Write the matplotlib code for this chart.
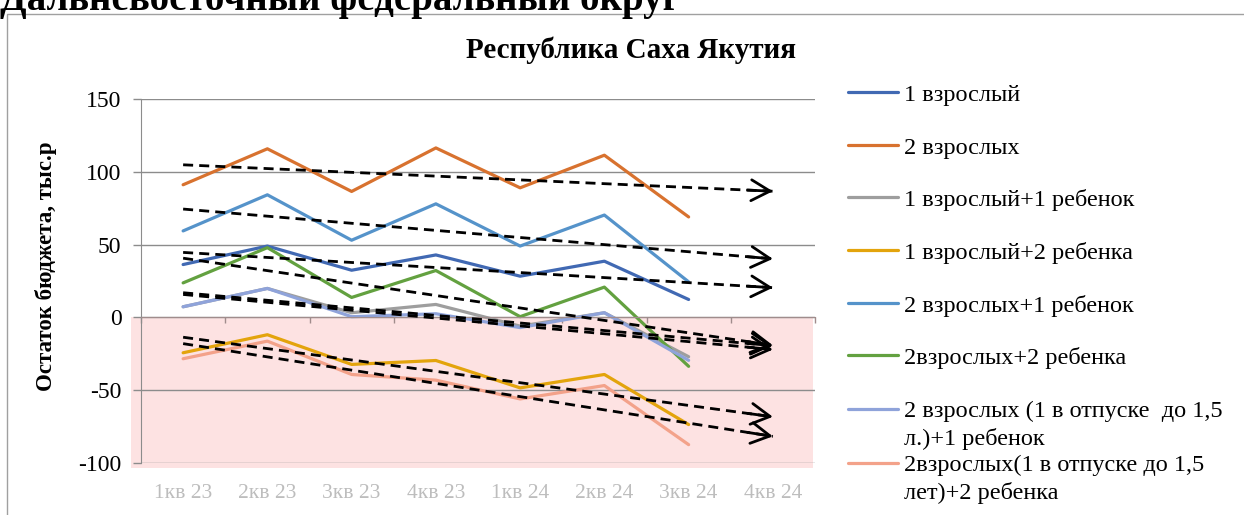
import numpy as np
import matplotlib
matplotlib.use('Agg')
import matplotlib.pyplot as plt
from matplotlib.lines import Line2D

plt.rcParams['font.family'] = ['Liberation Serif', 'DejaVu Serif']
plt.rcParams['axes.unicode_minus'] = False

# quarters on the x axis
quarters = ['1кв 23', '2кв 23', '3кв 23', '4кв 23', '1кв 24', '2кв 24', '3кв 24', '4кв 24']

# budget remainder, thousand rub (no value yet for 4кв 24)
one_adult = [36.3, 49.0, 32.4, 42.9, 28.3, 38.6, 12.3]
two_adults = [91.1, 115.8, 86.5, 116.4, 89.0, 111.4, 69.0]
one_adult_one_child = [7.3, 19.9, 3.2, 8.9, -6.0, 3.2, -27.0]
one_adult_two_children = [-24.3, -11.9, -32.3, -29.6, -48.4, -39.2, -73.6]
two_adults_one_child = [59.4, 84.2, 53.0, 78.0, 49.0, 70.3, 24.4]
two_adults_two_children = [23.7, 47.9, 13.7, 32.2, 0.5, 20.8, -33.6]
leave_one_child = [7.3, 19.9, 0.5, 2.5, -7.0, 3.2, -29.5]
leave_two_children = [-28.4, -16.3, -39.2, -43.1, -56.0, -46.8, -87.4]

labels = ['1 взрослый', '2 взрослых', '1 взрослый+1 ребенок', '1 взрослый+2 ребенка',
          '2 взрослых+1 ребенок', '2взрослых+2 ребенка',
          '2 взрослых (1 в отпуске  до 1,5\nл.)+1 ребенок',
          '2взрослых(1 в отпуске до 1,5\nлет)+2 ребенка']
series = [one_adult, two_adults, one_adult_one_child, one_adult_two_children,
          two_adults_one_child, two_adults_two_children, leave_one_child, leave_two_children]
colors = ['#4169B3', '#D8722F', '#9E9E9E', '#E3A40C', '#5593CA', '#63A140', '#8FA3DA', '#F3A28A']

W, H = 1244, 515
fig = plt.figure(figsize=(W / 100, H / 100), dpi=100)
ax = fig.add_axes([141 / W, 1 - 463 / H, 674 / W, 364 / H])

# pink zone below zero
ax.add_patch(plt.Rectangle((-0.015, -103.5), 1.012, 103.5, transform=ax.get_yaxis_transform(),
                           facecolor='#FDE2E2', edgecolor='none', zorder=0.2, clip_on=False))

x = np.arange(len(quarters))
for vals, c in zip(series, colors):
    ax.plot(x[:len(vals)], vals, color=c, lw=2.3, solid_capstyle='round', zorder=2)

# linear trends with forecast to 4кв 24
for vals in series:
    xs = x[:len(vals)]
    k, b = np.polyfit(xs, vals, 1)
    xe = np.array([0, len(quarters) - 1])
    ax.plot(xe, k * xe + b, color='black', lw=2, ls=(0, (3.6, 2.2)), zorder=3)
    ax.annotate('', xy=(xe[1], k * xe[1] + b), xytext=(xe[1] - 0.3, k * (xe[1] - 0.3) + b),
                arrowprops=dict(arrowstyle='->, head_length=0.9, head_width=0.5', lw=2,
                                color='black', mutation_scale=15, shrinkA=0, shrinkB=0), zorder=3)

ax.set_xlim(-0.5, len(quarters) - 0.5)
ax.set_ylim(-100, 150)
ax.set_yticks([-100, -50, 0, 50, 100, 150])
ax.yaxis.grid(True, color='#8C8C8C', lw=1)
ax.set_axisbelow(True)
ax.tick_params(axis='y', length=6, width=1, color='#8C8C8C', pad=8, labelsize=17)
for s in ['top', 'right']:
    ax.spines[s].set_visible(False)
ax.spines['left'].set_color('#8C8C8C')
ax.spines['bottom'].set_position(('data', 0))
ax.spines['bottom'].set_color('#A08C8C')
ax.set_xticks(np.arange(len(quarters) + 1) - 0.5)
ax.tick_params(axis='x', length=4.5, width=1, color='#A08C8C', labelbottom=False)

sec = ax.secondary_xaxis('bottom')
sec.set_xticks(x, quarters)
sec.tick_params(length=0, pad=15, labelsize=15.5, labelcolor='#BDBDBD')
sec.spines['bottom'].set_visible(False)

fig.text(46 / W, 1 - 266 / H, 'Остаток бюджета, тыс.р', rotation=90, ha='center', va='center',
         fontsize=16.5, fontweight='bold')
fig.text(631 / W, 1 - 50 / H, 'Республика Саха Якутия', ha='center', va='center',
         fontsize=21, fontweight='bold')
fig.text(0, 1 - 10 / H, 'Дальневосточный федеральный округ', ha='left', va='baseline',
         fontsize=28, fontweight='bold')

# outer chart frame
fig.add_artist(Line2D([7 / W, 7 / W, 1], [0, 1 - 14 / H, 1 - 14 / H], color='#A0A0A0', lw=1))

# legend (baseline of multi-line text sits on its last line)
leg_y = [92, 145, 197, 250, 303, 355, 409, 463]
for lab, c, yy in zip(labels, colors, leg_y):
    fig.add_artist(Line2D([848 / W, 898 / W], [1 - yy / H] * 2, color=c, lw=2.3, solid_capstyle='round'))
    base = yy + 9 + 26.7 * lab.count('\n')
    fig.text(904 / W, 1 - base / H, lab, ha='left', va='baseline', fontsize=17.5, linespacing=1.35)

fig.savefig('out.png', dpi=100)
